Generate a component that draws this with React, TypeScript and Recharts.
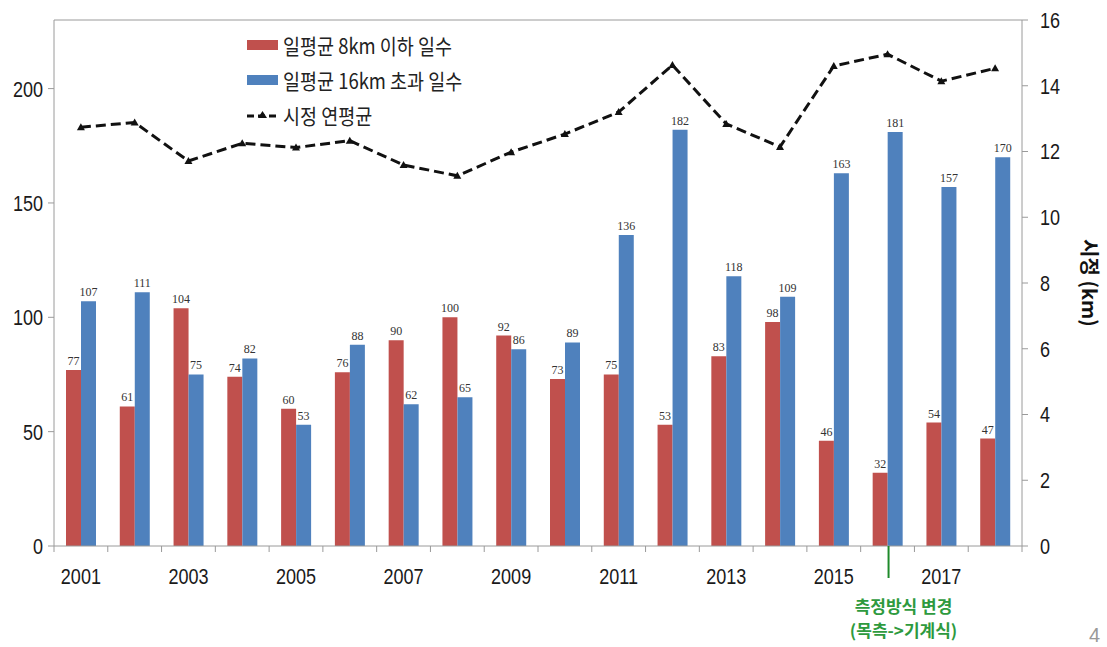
import React from "react";
import {
  ComposedChart,
  Bar,
  Line,
  XAxis,
  YAxis,
  LabelList,
  ReferenceLine,
} from "recharts";

const years = [
  "2001", "2002", "2003", "2004", "2005", "2006", "2007", "2008", "2009",
  "2010", "2011", "2012", "2013", "2014", "2015", "2016", "2017", "2018",
];
const under8km = [77, 61, 104, 74, 60, 76, 90, 100, 92, 73, 75, 53, 83, 98, 46, 32, 54, 47];
const over16km = [107, 111, 75, 82, 53, 88, 62, 65, 86, 89, 136, 182, 118, 109, 163, 181, 157, 170];
const visibility = [
  12.74, 12.88, 11.71, 12.25, 12.12, 12.33, 11.59, 11.26, 11.98,
  12.53, 13.2, 14.63, 12.84, 12.14, 14.6, 14.96, 14.14, 14.53,
];
const leftTicks = [0, 50, 100, 150, 200];
const rightTicks = [0, 2, 4, 6, 8, 10, 12, 14, 16];
const changeYear = "2016";

const W = 1107;
const H = 647;
const LEFT_W = 54;
const RIGHT_W = 85;
const BAND = (W - LEFT_W - RIGHT_W) / years.length;

const RED = "#C0504D";
const BLUE = "#4F81BD";
const AXIS = "#9a9a9a";
const TICK_FONT = "'Liberation Sans', Arial, sans-serif";
const KR_FONT = "'Noto Sans CJK KR', 'Noto Sans', sans-serif";
// the source picture is horizontally squeezed, so tick text is narrowed a bit
const SQUEEZE = 0.82;

const data = years.map((year, i) => ({
  year,
  under8: under8km[i],
  over16: over16km[i],
  vis: visibility[i],
}));

function NarrowText({ x, y, anchor, children }: any) {
  return (
    <text
      transform={`translate(${x},${y}) scale(${SQUEEZE},1)`}
      textAnchor={anchor}
      dy="0.36em"
      fontSize={22}
      fontFamily={TICK_FONT}
      fill="#1a1a1a"
    >
      {children}
    </text>
  );
}

function ValueTick(props: any) {
  const { x, y, payload, textAnchor } = props;
  return <NarrowText x={x} y={y} anchor={textAnchor}>{payload.value}</NarrowText>;
}

function YearTick(props: any) {
  const { x, y, payload, index } = props;
  const half = BAND / 2;
  const last = index === years.length - 1;
  return (
    <g>
      <line x1={x - half} x2={x - half} y1={y} y2={y + 6} stroke={AXIS} />
      {last && <line x1={x + half} x2={x + half} y1={y} y2={y + 6} stroke={AXIS} />}
      {index % 2 === 0 && (
        <NarrowText x={x} y={y + 30} anchor="middle">{payload.value}</NarrowText>
      )}
      {payload.value === changeYear && (
        <g>
          <line x1={x + 1} x2={x + 1} y1={y} y2={y + 32} stroke="#1e8a2a" strokeWidth={2} />
          <text
            x={x + 16}
            y={y + 67}
            textAnchor="middle"
            fontSize={17}
            fontWeight="bold"
            fontFamily={KR_FONT}
            fill="#2e9a3e"
          >
            측정방식 변경
          </text>
          <text
            x={x + 16}
            y={y + 91}
            textAnchor="middle"
            fontSize={17}
            fontWeight="bold"
            fontFamily={KR_FONT}
            fill="#2e9a3e"
          >
            (목측-&gt;기계식)
          </text>
        </g>
      )}
    </g>
  );
}

function Tri(props: any) {
  const { cx, cy } = props;
  if (cx == null || cy == null) return null;
  return <path d={`M${cx},${cy - 4} L${cx + 4},${cy + 3} L${cx - 4},${cy + 3} Z`} fill="#111" />;
}

const barLabel = {
  position: "top" as const,
  offset: 5,
  fontSize: 12,
  fontFamily: "'Liberation Serif', 'DejaVu Serif', serif",
  fill: "#333",
};

function LegendBox() {
  const row: React.CSSProperties = {
    display: "flex",
    alignItems: "center",
    height: 35,
  };
  const label: React.CSSProperties = {
    fontFamily: KR_FONT,
    fontSize: 21,
    color: "#222",
    marginLeft: 5,
    transform: "scaleX(0.88)",
    transformOrigin: "left center",
    whiteSpace: "nowrap",
  };
  return (
    <div style={{ position: "absolute", left: 247, top: 27 }}>
      <div style={row}>
        <div style={{ width: 31, height: 10, background: RED }} />
        <span style={label}>일평균 8km 이하 일수</span>
      </div>
      <div style={row}>
        <div style={{ width: 31, height: 10, background: BLUE }} />
        <span style={label}>일평균 16km 초과 일수</span>
      </div>
      <div style={row}>
        <svg width={31} height={12}>
          <line x1={0} x2={31} y1={7} y2={7} stroke="#111" strokeWidth={3} strokeDasharray="7 4" />
          <path d="M15.5,2 L20,9 L11,9 Z" fill="#111" />
        </svg>
        <span style={label}>시정 연평균</span>
      </div>
    </div>
  );
}

export default function App() {
  return (
    <div
      style={{
        position: "absolute",
        left: 0,
        top: 0,
        width: W,
        height: H,
        background: "#fff",
        overflow: "hidden",
      }}
    >
      <ComposedChart
        width={W}
        height={H}
        data={data}
        margin={{ top: 20, right: 0, left: 0, bottom: 0 }}
        barGap={0}
      >
        <XAxis
          dataKey="year"
          interval={0}
          height={101}
          tickLine={false}
          tickSize={0}
          tickMargin={0}
          axisLine={{ stroke: AXIS }}
          tick={<YearTick />}
        />
        <YAxis
          yAxisId="left"
          width={LEFT_W}
          domain={[0, 230]}
          ticks={leftTicks}
          allowDataOverflow
          axisLine={{ stroke: AXIS }}
          tickLine={{ stroke: AXIS }}
          tickSize={6}
          tickMargin={5}
          tick={<ValueTick />}
        />
        <YAxis
          yAxisId="right"
          orientation="right"
          width={RIGHT_W}
          domain={[0, 16]}
          ticks={rightTicks}
          axisLine={{ stroke: AXIS }}
          tickLine={{ stroke: AXIS }}
          tickSize={6}
          tickMargin={12}
          tick={<ValueTick />}
        />
        <ReferenceLine yAxisId="left" y={230} stroke={AXIS} />
        <Bar yAxisId="left" dataKey="under8" fill={RED} barSize={15} isAnimationActive={false}>
          <LabelList dataKey="under8" {...barLabel} />
        </Bar>
        <Bar yAxisId="left" dataKey="over16" fill={BLUE} barSize={15} isAnimationActive={false}>
          <LabelList dataKey="over16" {...barLabel} />
        </Bar>
        <Line
          yAxisId="right"
          dataKey="vis"
          stroke="#111"
          strokeWidth={3}
          strokeDasharray="10 5"
          dot={<Tri />}
          activeDot={false}
          isAnimationActive={false}
        />
      </ComposedChart>
      <LegendBox />
      <div
        style={{
          position: "absolute",
          left: 1090,
          top: 283,
          transform: "translate(-50%, -50%) rotate(90deg)",
          fontFamily: KR_FONT,
          fontSize: 20,
          fontWeight: "bold",
          color: "#111",
          whiteSpace: "nowrap",
        }}
      >
        시정 (km)
      </div>
      <div
        style={{
          position: "absolute",
          left: 1089,
          top: 624,
          fontFamily: "'Liberation Sans', Arial, sans-serif",
          fontSize: 20,
          color: "#999",
        }}
      >
        4
      </div>
    </div>
  );
}
